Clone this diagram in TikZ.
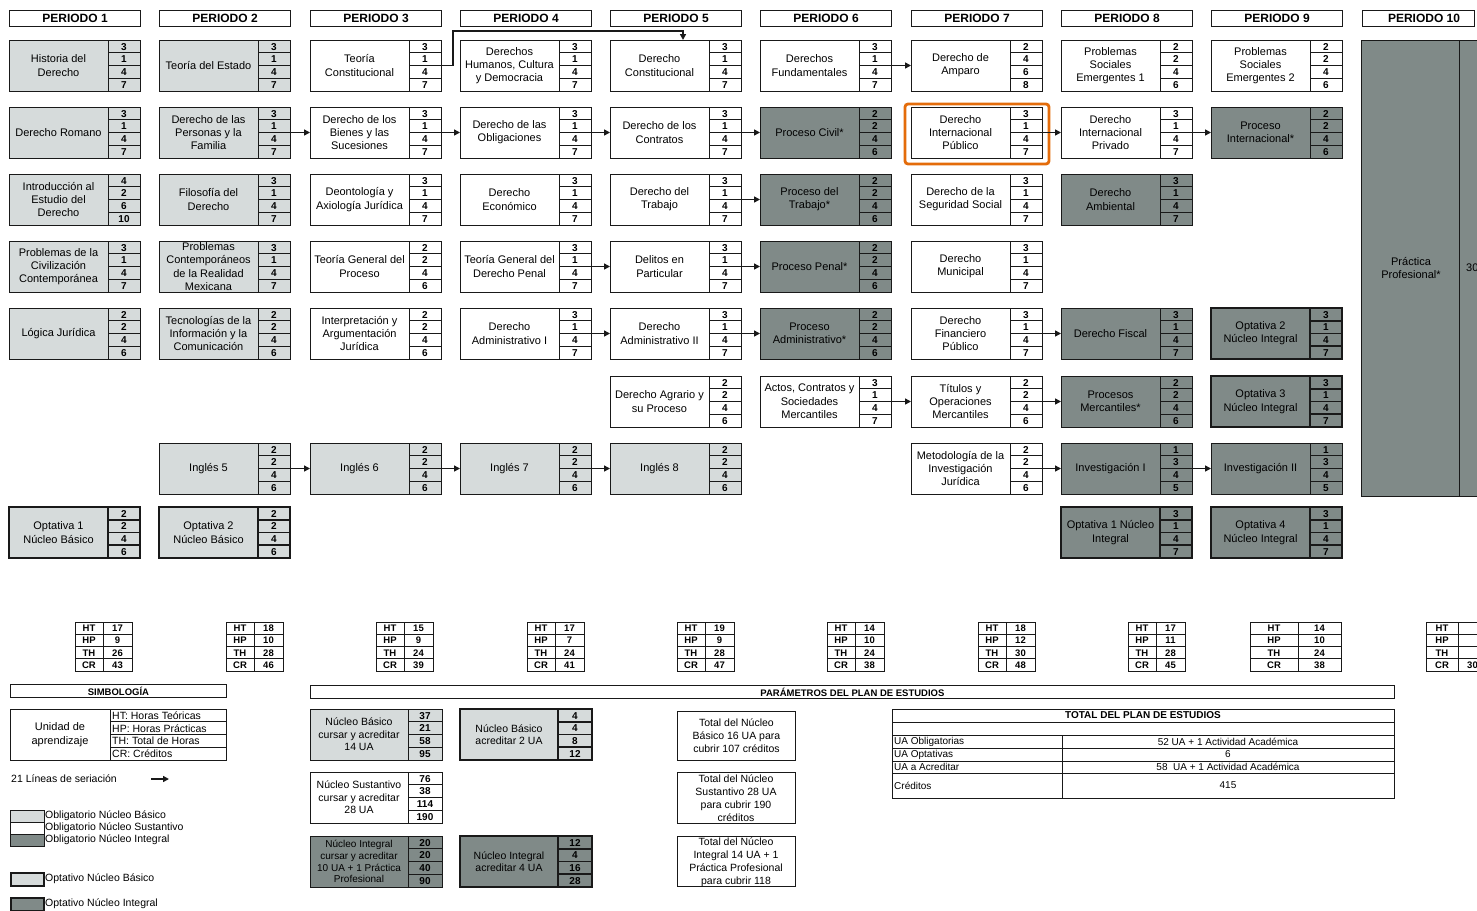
\documentclass[tikz,border=0pt]{standalone}
\usepackage{fontspec}
\setmainfont{Liberation Sans}
\usetikzlibrary{calc,arrows.meta}
\definecolor{lg}{RGB}{214,219,219}
\definecolor{dg}{RGB}{128,138,136}
\definecolor{hl}{RGB}{228,108,10}
\definecolor{ln}{RGB}{25,25,25}
\def\cbW{131}
\def\cbD{99}
\def\cbF{\fontsize{11}{13.3}\selectfont}
\newcommand{\crs}[9]{%
 \node[cbox,fill=#3,line width=#4,minimum width=\cbW*1pt] (#1) at #2 {};
 \draw[ln,line width=#4] ($(#1.north west)+(\cbD,0)$) -- ($(#1.south west)+(\cbD,0)$);
 \foreach \k in {1,2,3}{\draw[ln,line width=#4] ($(#1.north west)+(\cbD,12.75*\k)$) -- ($(#1.north east)+(0,12.75*\k)$);}
 \node[ctext,font=\cbF] (#1-t) at ($(#1.north west)+(\cbD/2,25.5)$) {#5};
 \node[cnum] (#1-1) at ($(#1.north west)+(\cbD/2+\cbW/2,6.6)$) {#6};
 \node[cnum] (#1-2) at ($(#1.north west)+(\cbD/2+\cbW/2,19.3)$) {#7};
 \node[cnum] (#1-3) at ($(#1.north west)+(\cbD/2+\cbW/2,32.1)$) {#8};
 \node[cnum] (#1-4) at ($(#1.north west)+(\cbD/2+\cbW/2,44.8)$) {#9};
}
\newcommand{\sumt}[8]{%
 \node[sbox,minimum width=#3*1pt+#4*1pt] (#1) at (#2,622) {};
 \draw[ln,line width=0.8pt] ($(#1.north west)+(#3,0)$) -- ($(#1.south west)+(#3,0)$);
 \foreach \k in {1,2,3}{\draw[ln,line width=0.8pt] ($(#1.north west)+(0,12.25*\k)$) -- ($(#1.north east)+(0,12.25*\k)$);}
 \node[snum] (#1-a) at ($(#1.north west)+(#3/2,6.3)$) {HT};
 \node[snum] (#1-b) at ($(#1.north west)+(#3/2,18.6)$) {HP};
 \node[snum] (#1-c) at ($(#1.north west)+(#3/2,30.8)$) {TH};
 \node[snum] (#1-d) at ($(#1.north west)+(#3/2,43.1)$) {CR};
 \node[snum] (#1-e) at ($(#1.north west)+(#3+#4/2,6.3)$) {#5};
 \node[snum] (#1-f) at ($(#1.north west)+(#3+#4/2,18.6)$) {#6};
 \node[snum] (#1-g) at ($(#1.north west)+(#3+#4/2,30.8)$) {#7};
 \node[snum] (#1-h) at ($(#1.north west)+(#3+#4/2,43.1)$) {#8};
}
\begin{document}
\begin{tikzpicture}[x=1pt,y=-1pt,
 cbox/.style={draw=ln,anchor=north west,minimum height=51pt,inner sep=0pt,outer sep=0pt},
 ctext/.style={align=center,inner sep=0pt,text=black},
 cnum/.style={font=\bfseries\fontsize{10}{10}\selectfont,inner sep=0pt},
 hbox/.style={draw=ln,anchor=north west,minimum width=131pt,minimum height=16pt,inner sep=0pt,line width=1.1pt,font=\bfseries\fontsize{12}{12}\selectfont},
 sbox/.style={draw=ln,anchor=north west,minimum height=49pt,inner sep=0pt,line width=1.3pt},
 snum/.style={font=\bfseries\fontsize{9.5}{9.5}\selectfont,inner sep=0pt},
 arr/.style={ln,line width=1.6pt,-{Triangle[length=6pt,width=6pt]}},
 lbl/.style={inner sep=0pt,font=\fontsize{10.5}{12}\selectfont},
 bhead/.style={draw=ln,anchor=north west,minimum height=13pt,inner sep=0pt,line width=0.9pt,font=\bfseries\fontsize{9.5}{9.5}\selectfont}]
\fill[white] (0,0) rectangle (1477,910);
\useasboundingbox (0,0) rectangle (1477,910);
% headers
\node[hbox] (h1) at (9,10) {PERIODO 1};
\node[hbox] (h2) at (159,10) {PERIODO 2};
\node[hbox] (h3) at (310,10) {PERIODO 3};
\node[hbox] (h4) at (460,10) {PERIODO 4};
\node[hbox] (h5) at (610,10) {PERIODO 5};
\node[hbox] (h6) at (760,10) {PERIODO 6};
\node[hbox] (h7) at (911,10) {PERIODO 7};
\node[hbox] (h8) at (1061,10) {PERIODO 8};
\node[hbox] (h9) at (1211,10) {PERIODO 9};
\node[hbox,minimum width=112pt] (h10) at (1362,10) {};
\node[inner sep=0pt,font=\bfseries\fontsize{12}{12}\selectfont] (h10t) at (1424,18) {PERIODO 10};
% periodo 1
\crs{p1a}{(9,40)}{lg}{0.9pt}{Historia del\\Derecho}{3}{1}{4}{7}
\crs{p1b}{(9,107)}{lg}{0.9pt}{Derecho Romano}{3}{1}{4}{7}
\crs{p1c}{(9,174)}{lg}{0.9pt}{Introducción al\\Estudio del\\Derecho}{4}{2}{6}{10}
\crs{p1d}{(9,241)}{lg}{0.9pt}{Problemas de la\\Civilización\\Contemporánea}{3}{1}{4}{7}
\crs{p1e}{(9,308)}{lg}{0.9pt}{Lógica Jurídica}{2}{2}{4}{6}
\crs{p1h}{(9,507)}{lg}{1.8pt}{Optativa 1\\Núcleo Básico}{2}{2}{4}{6}
% periodo 2
\crs{p2a}{(159,40)}{lg}{0.9pt}{Teoría del Estado}{3}{1}{4}{7}
\crs{p2b}{(159,107)}{lg}{0.9pt}{Derecho de las\\Personas y la\\Familia}{3}{1}{4}{7}
\crs{p2c}{(159,174)}{lg}{0.9pt}{Filosofía del\\Derecho}{3}{1}{4}{7}
\crs{p2d}{(159,241)}{lg}{0.9pt}{Problemas\\Contemporáneos\\de la Realidad\\Mexicana}{3}{1}{4}{7}
\crs{p2e}{(159,308)}{lg}{0.9pt}{Tecnologías de la\\Información y la\\Comunicación}{2}{2}{4}{6}
\crs{p2g}{(159,443)}{lg}{0.9pt}{Inglés 5}{2}{2}{4}{6}
\crs{p2h}{(159,507)}{lg}{1.8pt}{Optativa 2\\Núcleo Básico}{2}{2}{4}{6}
% periodo 3
\crs{p3a}{(310,40)}{white}{0.9pt}{Teoría\\Constitucional}{3}{1}{4}{7}
\crs{p3b}{(310,107)}{white}{0.9pt}{Derecho de los\\Bienes y las\\Sucesiones}{3}{1}{4}{7}
\crs{p3c}{(310,174)}{white}{0.9pt}{Deontología y\\Axiología Jurídica}{3}{1}{4}{7}
\crs{p3d}{(310,241)}{white}{0.9pt}{Teoría General del\\Proceso}{2}{2}{4}{6}
\crs{p3e}{(310,308)}{white}{0.9pt}{Interpretación y\\Argumentación\\Jurídica}{2}{2}{4}{6}
\crs{p3g}{(310,443)}{lg}{0.9pt}{Inglés 6}{2}{2}{4}{6}
% periodo 4
\crs{p4a}{(460,40)}{white}{0.9pt}{Derechos\\Humanos, Cultura\\y Democracia}{3}{1}{4}{7}
\crs{p4b}{(460,107)}{white}{0.9pt}{Derecho de las\\Obligaciones}{3}{1}{4}{7}
\crs{p4c}{(460,174)}{white}{0.9pt}{Derecho\\Económico}{3}{1}{4}{7}
\crs{p4d}{(460,241)}{white}{0.9pt}{Teoría General del\\Derecho Penal}{3}{1}{4}{7}
\crs{p4e}{(460,308)}{white}{0.9pt}{Derecho\\Administrativo I}{3}{1}{4}{7}
\crs{p4g}{(460,443)}{lg}{0.9pt}{Inglés 7}{2}{2}{4}{6}
% periodo 5
\crs{p5a}{(610,40)}{white}{0.9pt}{Derecho\\Constitucional}{3}{1}{4}{7}
\crs{p5b}{(610,107)}{white}{0.9pt}{Derecho de los\\Contratos}{3}{1}{4}{7}
\crs{p5c}{(610,174)}{white}{0.9pt}{Derecho del\\Trabajo}{3}{1}{4}{7}
\crs{p5d}{(610,241)}{white}{0.9pt}{Delitos en\\Particular}{3}{1}{4}{7}
\crs{p5e}{(610,308)}{white}{0.9pt}{Derecho\\Administrativo II}{3}{1}{4}{7}
\crs{p5f}{(610,376)}{white}{0.9pt}{Derecho Agrario y\\su Proceso}{2}{2}{4}{6}
\crs{p5g}{(610,443)}{lg}{0.9pt}{Inglés 8}{2}{2}{4}{6}
% periodo 6
\crs{p6a}{(760,40)}{white}{0.9pt}{Derechos\\Fundamentales}{3}{1}{4}{7}
\crs{p6b}{(760,107)}{dg}{0.9pt}{Proceso Civil*}{2}{2}{4}{6}
\crs{p6c}{(760,174)}{dg}{0.9pt}{Proceso del\\Trabajo*}{2}{2}{4}{6}
\crs{p6d}{(760,241)}{dg}{0.9pt}{Proceso Penal*}{2}{2}{4}{6}
\crs{p6e}{(760,308)}{dg}{0.9pt}{Proceso\\Administrativo*}{2}{2}{4}{6}
\crs{p6f}{(760,376)}{white}{0.9pt}{Actos, Contratos y\\Sociedades\\Mercantiles}{3}{1}{4}{7}
% periodo 7
\crs{p7a}{(911,40)}{white}{0.9pt}{Derecho de\\Amparo}{2}{4}{6}{8}
\crs{p7b}{(911,107)}{white}{0.9pt}{Derecho\\Internacional\\Público}{3}{1}{4}{7}
\crs{p7c}{(911,174)}{white}{0.9pt}{Derecho de la\\Seguridad Social}{3}{1}{4}{7}
\crs{p7d}{(911,241)}{white}{0.9pt}{Derecho\\Municipal}{3}{1}{4}{7}
\crs{p7e}{(911,308)}{white}{0.9pt}{Derecho\\Financiero\\Público}{3}{1}{4}{7}
\crs{p7f}{(911,376)}{white}{0.9pt}{Títulos y\\Operaciones\\Mercantiles}{2}{2}{4}{6}
\crs{p7g}{(911,443)}{white}{0.9pt}{Metodología de la\\Investigación\\Jurídica}{2}{2}{4}{6}
% periodo 8
\crs{p8a}{(1061,40)}{white}{0.9pt}{Problemas\\Sociales\\Emergentes 1}{2}{2}{4}{6}
\crs{p8b}{(1061,107)}{white}{0.9pt}{Derecho\\Internacional\\Privado}{3}{1}{4}{7}
\crs{p8c}{(1061,174)}{dg}{0.9pt}{Derecho\\Ambiental}{3}{1}{4}{7}
\crs{p8e}{(1061,308)}{dg}{0.9pt}{Derecho Fiscal}{3}{1}{4}{7}
\crs{p8f}{(1061,376)}{dg}{0.9pt}{Procesos\\Mercantiles*}{2}{2}{4}{6}
\crs{p8g}{(1061,443)}{dg}{0.9pt}{Investigación I}{1}{3}{4}{5}
\crs{p8h}{(1061,507)}{dg}{1.8pt}{Optativa 1 Núcleo\\Integral}{3}{1}{4}{7}
% periodo 9
\crs{p9a}{(1211,40)}{white}{0.9pt}{Problemas\\Sociales\\Emergentes 2}{2}{2}{4}{6}
\crs{p9b}{(1211,107)}{dg}{0.9pt}{Proceso\\Internacional*}{2}{2}{4}{6}
\crs{p9e}{(1211,308)}{dg}{1.8pt}{Optativa 2\\Núcleo Integral}{3}{1}{4}{7}
\crs{p9f}{(1211,376)}{dg}{1.8pt}{Optativa 3\\Núcleo Integral}{3}{1}{4}{7}
\crs{p9g}{(1211,443)}{dg}{0.9pt}{Investigación II}{1}{3}{4}{5}
\crs{p9h}{(1211,507)}{dg}{1.8pt}{Optativa 4\\Núcleo Integral}{3}{1}{4}{7}
% periodo 10
\node[cbox,fill=dg,line width=0.9pt,minimum width=140pt,minimum height=456pt] (p10) at (1361,40) {};
\draw[ln,line width=0.9pt] ($(p10.north west)+(98,0)$) -- ($(p10.south west)+(98,0)$);
\node[ctext,font=\cbF] (p10t) at ($(p10.north west)+(50,228)$) {Práctica\\Profesional*};
\node[inner sep=0pt,anchor=west,font=\cbF] (p10n) at ($(p10.north west)+(105,228)$) {30};
% highlight
\draw[hl,line width=2.8pt,rounded corners=3pt] ($(p7b.north west)+(-6,-3)$) rectangle ($(p7b.south east)+(7,6)$);
% arrows
\draw[arr] (p2b.east) -- (p3b.west);
\draw[arr] (p3b.east) -- (p4b.west);
\draw[arr] (p4b.east) -- (p5b.west);
\draw[arr] (p5b.east) -- (p6b.west);
\draw[arr] (p6a.east) -- (p7a.west);
\draw[arr] (p7b.east) -- (p8b.west);
\draw[arr] (p8b.east) -- (p9b.west);
\draw[arr] (p5c.east) -- (p6c.west);
\draw[arr] (p4d.east) -- (p5d.west);
\draw[arr] (p5d.east) -- (p6d.west);
\draw[arr] (p4e.east) -- (p5e.west);
\draw[arr] (p5e.east) -- (p6e.west);
\draw[arr] (p7e.east) -- (p8e.west);
\draw[arr] (p6f.east) -- (p7f.west);
\draw[arr] (p7f.east) -- (p8f.west);
\draw[arr] (p2g.east) -- (p3g.west);
\draw[arr] (p3g.east) -- (p4g.west);
\draw[arr] (p4g.east) -- (p5g.west);
\draw[arr] (p7g.east) -- (p8g.west);
\draw[arr] (p8g.east) -- (p9g.west);
\coordinate (p5top) at ($(p5a.north west)+(73,0)$);
\draw[arr] (p3a.east) -- ++(12,0) |- ($(p5top)+(0,-9)$) -- (p5top);
% summary tables
\sumt{s1}{75}{28}{29}{17}{9}{26}{43}
\sumt{s2}{226}{28}{29}{18}{10}{28}{46}
\sumt{s3}{376}{28}{29}{15}{9}{24}{39}
\sumt{s4}{527}{28}{29}{17}{7}{24}{41}
\sumt{s5}{677}{28}{29}{19}{9}{28}{47}
\sumt{s6}{827}{28}{29}{14}{10}{24}{38}
\sumt{s7}{978}{28}{29}{18}{12}{30}{48}
\sumt{s8}{1128}{28}{29}{17}{11}{28}{45}
\sumt{s9}{1250}{48}{43}{14}{10}{24}{38}
\node[sbox,minimum width=100pt] (s10) at (1426,622) {};
\draw[ln,line width=0.8pt] ($(s10.north west)+(32,0)$) -- ($(s10.south west)+(32,0)$);
\foreach \k in {1,2,3}{\draw[ln,line width=0.8pt] ($(s10.north west)+(0,12.25*\k)$) -- ($(s10.north east)+(0,12.25*\k)$);}
\node[snum] (s10a) at ($(s10.north west)+(16,6.3)$) {HT};
\node[snum] (s10b) at ($(s10.north west)+(16,18.6)$) {HP};
\node[snum] (s10c) at ($(s10.north west)+(16,30.8)$) {TH};
\node[snum] (s10d) at ($(s10.north west)+(16,43.1)$) {CR};
\node[snum,anchor=west] (s10h) at ($(s10.north west)+(41,43.1)$) {30};
% simbologia
\node[bhead,minimum width=216pt] (simb) at (10,684) {SIMBOLOGÍA};
\node[cbox,fill=white,line width=0.9pt,minimum width=216pt] (leg) at (10,709) {};
\draw[ln,line width=0.9pt] ($(leg.north west)+(100,0)$) -- ($(leg.south west)+(100,0)$);
\foreach \k in {1,2,3}{\draw[ln,line width=0.9pt] ($(leg.north west)+(100,12.75*\k)$) -- ($(leg.north east)+(0,12.75*\k)$);}
\node[ctext,font=\cbF] (legt) at ($(leg.north west)+(50,25.5)$) {Unidad de\\aprendizaje};
\node[lbl,anchor=west] (leg1) at ($(leg.north west)+(102,6.6)$) {HT: Horas Teóricas};
\node[lbl,anchor=west] (leg2) at ($(leg.north west)+(102,19.3)$) {HP: Horas Prácticas};
\node[lbl,anchor=west] (leg3) at ($(leg.north west)+(102,32.1)$) {TH: Total de Horas};
\node[lbl,anchor=west] (leg4) at ($(leg.north west)+(102,44.8)$) {CR: Créditos};
\node[lbl,anchor=west] (ser) at (11,779) {21 Líneas de seriación};
\coordinate (sa) at (151,779);
\coordinate (sb) at (169,779);
\draw[arr] (sa) -- (sb);
\node[draw=ln,fill=lg,anchor=north west,minimum width=34pt,minimum height=12pt,inner sep=0pt,line width=0.7pt] (sw1) at (10,810) {};
\node[draw=ln,fill=white,anchor=north west,minimum width=34pt,minimum height=12pt,inner sep=0pt,line width=0.7pt] (sw2) at (10,822) {};
\node[draw=ln,fill=dg,anchor=north west,minimum width=34pt,minimum height=12pt,inner sep=0pt,line width=0.7pt] (sw3) at (10,834) {};
\node[lbl,anchor=west] (sw1t) at (45,816) {Obligatorio Núcleo Básico};
\node[lbl,anchor=west] (sw2t) at (45,828) {Obligatorio Núcleo Sustantivo};
\node[lbl,anchor=west] (sw3t) at (45,840) {Obligatorio Núcleo Integral};
\node[draw=ln,fill=lg,anchor=north west,minimum width=33pt,minimum height=13pt,inner sep=0pt,line width=1.6pt] (sw4) at (10,872) {};
\node[lbl,anchor=west] (sw4t) at (45,879) {Optativo Núcleo Básico};
\node[draw=ln,fill=dg,anchor=north west,minimum width=33pt,minimum height=13pt,inner sep=0pt,line width=1.6pt] (sw5) at (10,897) {};
\node[lbl,anchor=west] (sw5t) at (45,904) {Optativo Núcleo Integral};
% parametros
\node[bhead,minimum width=1084pt] (par) at (310,685) {PARÁMETROS DEL PLAN DE ESTUDIOS};
\def\cbW{132}\def\cbD{98}\def\cbF{\fontsize{10.5}{12.5}\selectfont}
\crs{nb1}{(310,709)}{lg}{0.9pt}{Núcleo Básico\\cursar y acreditar\\14 UA}{37}{21}{58}{95}
\crs{nb2}{(460,709)}{lg}{1.8pt}{Núcleo Básico\\acreditar 2 UA}{4}{4}{8}{12}
\crs{ns1}{(310,772)}{white}{0.9pt}{Núcleo Sustantivo\\cursar y acreditar\\28 UA}{76}{38}{114}{190}
\def\cbF{\fontsize{10}{11.8}\selectfont}
\crs{ni1}{(310,836)}{dg}{0.9pt}{Núcleo Integral\\cursar y acreditar\\10 UA + 1 Práctica\\Profesional}{20}{20}{40}{90}
\def\cbF{\fontsize{10.5}{12.5}\selectfont}
\crs{ni2}{(460,836)}{dg}{1.8pt}{Núcleo Integral\\acreditar 4 UA}{12}{4}{16}{28}
% totals
\node[draw=ln,anchor=north west,minimum width=118pt,minimum height=49pt,inner sep=0pt,line width=0.9pt] (t1) at (677,711) {};
\node[ctext,font=\fontsize{10.5}{13}\selectfont] (t1t) at (t1.center) {Total del Núcleo\\Básico 16 UA para\\cubrir 107 créditos};
\node[ctext,font=\fontsize{10.5}{13}\selectfont] (t2t) at (736,798) {Total del Núcleo\\Sustantivo 28 UA\\para cubrir 190\\créditos};
\node[draw=ln,anchor=north west,minimum width=118pt,minimum height=51pt,inner sep=0pt,line width=0.9pt] (t2) at (677,772) {};
\node[ctext,font=\fontsize{10.5}{13}\selectfont] (t3t) at (736,862) {Total del Núcleo\\Integral 14 UA + 1\\Práctica Profesional\\para cubrir 118};
\node[draw=ln,anchor=north west,minimum width=118pt,minimum height=50pt,inner sep=0pt,line width=0.9pt] (t3) at (677,836) {};
% total del plan
\node[draw=ln,anchor=north west,minimum width=502pt,minimum height=89pt,inner sep=0pt,line width=0.9pt] (tp) at (892,709) {};
\foreach \yy in {13,26,39,52,64}{\draw[ln,line width=0.8pt] ($(tp.north west)+(0,\yy)$) -- ($(tp.north east)+(0,\yy)$);}
\draw[ln,line width=0.8pt] ($(tp.north west)+(170,26)$) -- ($(tp.south west)+(170,0)$);
\node[inner sep=0pt,font=\bfseries\fontsize{10}{10}\selectfont] (tph) at ($(tp.north west)+(251,6.5)$) {TOTAL DEL PLAN DE ESTUDIOS};
\node[lbl,anchor=west,font=\fontsize{10}{10}\selectfont] (tp1) at ($(tp.north west)+(2,32.5)$) {UA Obligatorias};
\node[lbl,anchor=west,font=\fontsize{10}{10}\selectfont] (tp2) at ($(tp.north west)+(2,45.5)$) {UA Optativas};
\node[lbl,anchor=west,font=\fontsize{10}{10}\selectfont] (tp3) at ($(tp.north west)+(2,58)$) {UA a Acreditar};
\node[lbl,anchor=west,font=\fontsize{10}{10}\selectfont] (tp4) at ($(tp.north west)+(2,76.5)$) {Créditos};
\node[lbl,font=\fontsize{10}{10}\selectfont] (tp5) at ($(tp.north west)+(336,32.5)$) {52 UA + 1 Actividad Académica};
\node[lbl,font=\fontsize{10}{10}\selectfont] (tp6) at ($(tp.north west)+(336,45.5)$) {6};
\node[lbl,font=\fontsize{10}{10}\selectfont] (tp7) at ($(tp.north west)+(336,58)$) {58~~UA + 1 Actividad Académica};
\node[lbl,font=\fontsize{10}{10}\selectfont] (tp8) at ($(tp.north west)+(336,76.5)$) {415};
\end{tikzpicture}
\end{document}
